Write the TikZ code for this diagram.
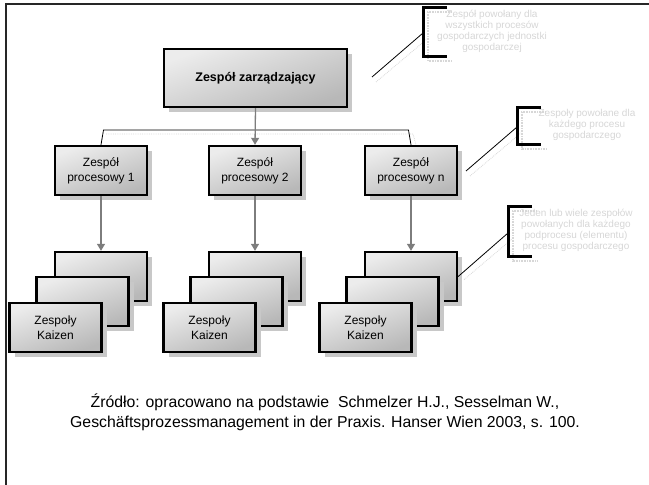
\documentclass[tikz,border=0pt]{standalone}
\usepackage{fontspec}
\setmainfont{Liberation Sans}
\usetikzlibrary{arrows.meta,shadows,calc}

\definecolor{boxtop}{RGB}{236,236,236}
\definecolor{boxbot}{RGB}{184,184,184}
\definecolor{shadowgray}{RGB}{200,200,200}
\definecolor{faintgray}{RGB}{215,215,215}
\definecolor{notegray}{RGB}{214,214,214}
\definecolor{arrowgray}{RGB}{125,125,125}

\tikzset{
  orgbox/.style={draw=black, line width=2.4pt, top color=boxtop, bottom color=boxbot,
    shading angle=20, inner sep=0pt, align=center,
    drop shadow={shadow xshift=5pt, shadow yshift=-5pt, fill=shadowgray, opacity=1},
    font=\fontsize{12}{15}\selectfont},
  procbox/.style={orgbox, minimum width=92pt, minimum height=49pt},
  kaizen/.style={procbox},
  feed/.style={draw=arrowgray, line width=1.3pt, -{Triangle[width=8pt,length=7pt]}},
  bus/.style={draw=black, line width=0.8pt},
  busshadow/.style={draw=faintgray, line width=0.8pt, densely dotted},
  note/.style={text=notegray, align=center, inner sep=0pt,
    font=\fontsize{10}{11}\selectfont},
  bracket/.style={draw=black, line width=3pt},
  bracketshadow/.style={draw=faintgray, line width=1.6pt, dash pattern=on 1pt off 0.6pt},
  pointer/.style={draw=black, line width=0.8pt},
}

\begin{document}
\begin{tikzpicture}[x=1pt,y=-1pt]
\useasboundingbox (0,0) rectangle (649,485);

% page frame (top and left edges)
\draw[line width=2.2pt, black!85] (6,485) -- (6,4) -- (649,4);

% management team
\node[orgbox, minimum width=183pt, minimum height=58pt,
      font=\fontsize{12.5}{15}\selectfont\bfseries] (tz) at (255.5,78) {Zespół zarządzający};

% process teams
\node[procbox] (p1) at (101,170.5) {Zespół\\procesowy 1};
\node[procbox] (p2) at (255,170.5) {Zespół\\procesowy 2};
\node[procbox] (pn) at (411,170.5) {Zespół\\procesowy n};

% Kaizen stacks: back, middle, front
\foreach \n/\cx in {1/101, 2/255, 3/411}{
  \node[kaizen] (k\n a) at (\cx,276.5) {};
  \node[kaizen] (k\n b) at (\cx-18.5,301.5) {};
  \node[kaizen] (k\n c) at (\cx-45.5,327.5) {Zespoły\\Kaizen};
}

% bus between the process teams
\coordinate (busline) at (0,130);
\draw[busshadow] ($(p1.north |- busline)+(5,4)$) -- ($(pn.north |- busline)+(2,4)$) -- ($(pn.north)+(5,0)$);
\draw[bus] (p1.north) -- ($(p1.north |- busline)+(2.5,0)$)
  -- ($(pn.north |- busline)+(-2.5,0)$) -- (pn.north);

% arrows
\draw[feed] (tz.south) -- (p2.north);
\draw[feed] (p1.south) -- (k1a.north);
\draw[feed] (p2.south) -- (k2a.north);
\draw[feed] (pn.south) -- (k3a.north);

% annotations
\node[note] (n1) at (492,31.5) {Zespół powołany dla\\wszystkich procesów\\gospodarczych jednostki\\gospodarczej};
\node[note] (n2) at (587,125) {Zespoły powołane dla\\każdego procesu\\gospodarczego};
\node[note] (n3) at (576,230.5) {Jeden lub wiele zespołów\\powołanych dla każdego\\podprocesu (elementu)\\procesu gospodarczego};

% bracket corners and pointer ends
\coordinate (b1) at (423,7);   \coordinate (b1m) at (423,33);  \coordinate (c1) at (372,77);
\coordinate (b2) at (517,107); \coordinate (b2m) at (517,127); \coordinate (c2) at (466,171);
\coordinate (b3) at (508,206); \coordinate (b3m) at (508,233); \coordinate (c3) at (k3a.east);

% bracket shadows
\draw[bracketshadow] ($(b1)+(29,5)$) -- ($(b1)+(5,5)$) -- ($(b1)+(5,54)$) -- ($(b1)+(29,54)$);
\draw[bracketshadow] ($(b2)+(29,5)$) -- ($(b2)+(5,5)$) -- ($(b2)+(5,42)$) -- ($(b2)+(29,42)$);
\draw[bracketshadow] ($(b3)+(29,5)$) -- ($(b3)+(5,5)$) -- ($(b3)+(5,55)$) -- ($(b3)+(29,55)$);
\draw[busshadow] ($(c1)+(4,5)$) -- ($(b1m)+(4,6)$);
\draw[busshadow] ($(c2)+(4,5)$) -- ($(b2m)+(4,6)$);
\draw[busshadow] ($(c3)+(6,3)$) -- ($(b3m)+(4,6)$);

% brackets
\draw[bracket] ($(b1)+(24,0)$) -- (b1) -- ++(0,49) -- ++(24,0);
\draw[bracket] ($(b2)+(24,0)$) -- (b2) -- ++(0,37) -- ++(24,0);
\draw[bracket] ($(b3)+(24,0)$) -- (b3) -- ++(0,50) -- ++(24,0);

% pointers
\draw[pointer] (c1) -- (b1m);
\draw[pointer] (c2) -- (b2m);
\draw[pointer] (c3) -- (b3m);

% source
\node[align=center, inner sep=0pt, font=\fontsize{15.8}{20}\selectfont] (src) at (325,412)
  {Źródło: opracowano na podstawie\ \ Schmelzer H.J., Sesselman W.,\\
   Geschäftsprozessmanagement in der Praxis. Hanser Wien 2003, s. 100.};
\end{tikzpicture}
\end{document}
